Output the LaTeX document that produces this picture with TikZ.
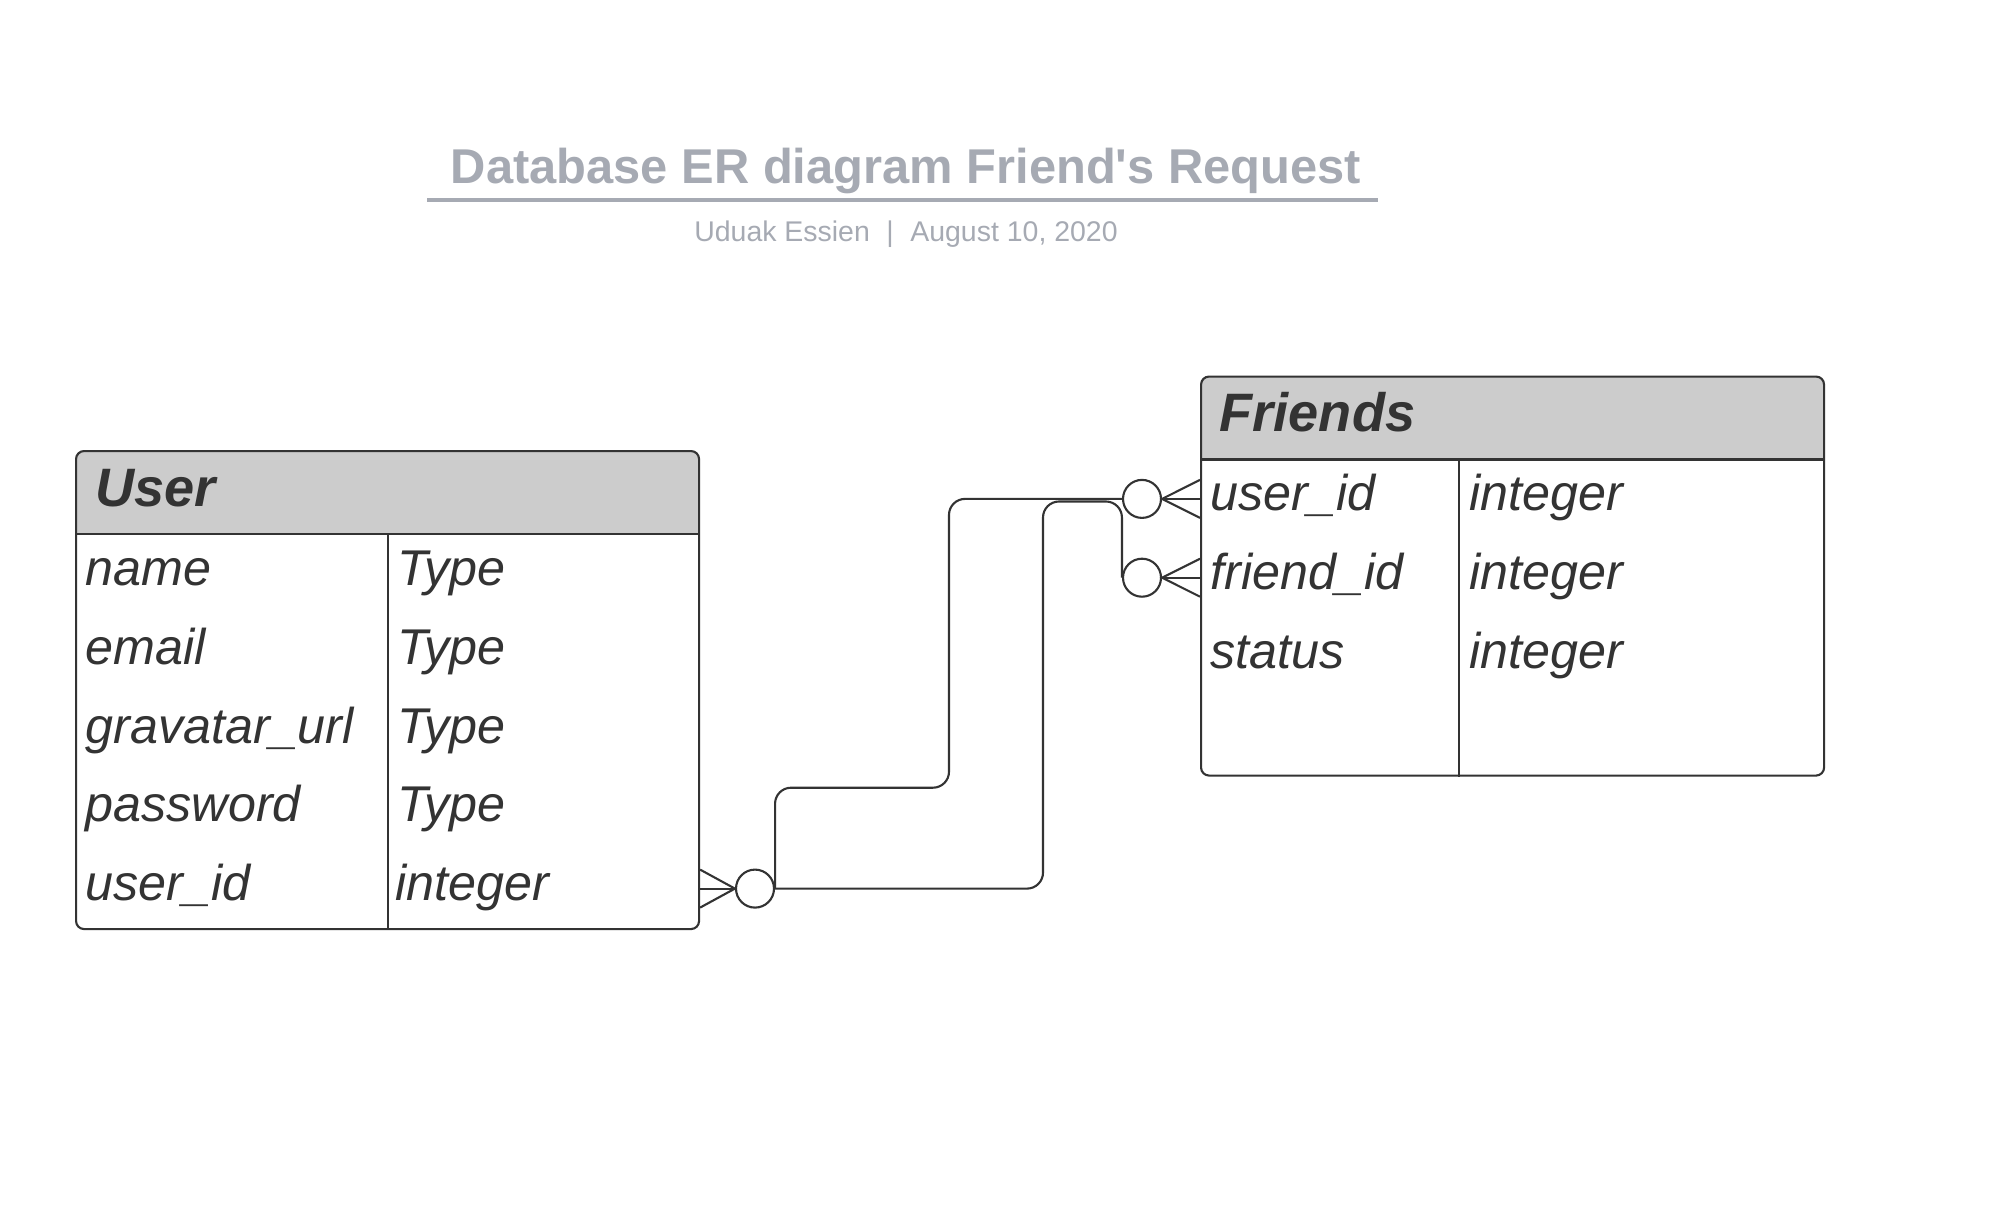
\documentclass[tikz,border=0pt]{standalone}
\usepackage{fontspec}
\setmainfont{Liberation Sans}
\usetikzlibrary{calc}
\definecolor{inkgray}{HTML}{333333}
\definecolor{headgray}{HTML}{CCCCCC}
\definecolor{titlegray}{HTML}{A6AAB3}
\tikzset{
	erbox/.style={draw=inkgray, line width=0.6pt, rounded corners=0.08cm, fill=white, inner sep=0pt,
		anchor=north west, minimum width=6.23cm,
		path picture={\fill[headgray, sharp corners] (path picture bounding box.north west) rectangle ([yshift=-0.84cm]path picture bounding box.north east);}},
	tblline/.style={draw=inkgray, line width=0.6pt},
	field/.style={anchor=base west, inner sep=0pt, text=inkgray, font=\itshape\fontsize{14.3}{17}\selectfont},
	tablehead/.style={anchor=base west, inner sep=0pt, text=inkgray, font=\bfseries\itshape\fontsize{15.4}{18}\selectfont},
	ring/.style={circle, draw=inkgray, line width=0.6pt, fill=white, minimum size=0.38cm, inner sep=0pt},
	link/.style={draw=inkgray, line width=0.6pt, rounded corners=0.16cm},
	foot/.style={draw=inkgray, line width=0.6pt},
}

\begin{document}
\begin{tikzpicture}
			%%%%% TITLE %%%%%
			\useasboundingbox (0, 0) rectangle (19.89, -12.30);
			
			\node[anchor=base, inner sep=0pt, text=titlegray, font=\bfseries\fontsize{13.9}{16}\selectfont] (title) at (9.06, -1.84) {Database ER diagram Friend\textquotesingle s Request};
			\draw[titlegray, line width=1.1pt] (4.27, -2.00) -- (13.78, -2.00);
			\node[anchor=base, inner sep=0pt, text=titlegray, font=\fontsize{8.1}{10}\selectfont] (byline) at (9.06, -2.41) {Uduak Essien\hspace{0.58em}|\hspace{0.58em}August 10, 2020};
			
			%%%%% USER %%%%%
			\node[erbox, minimum height=4.78cm] (user) at (0.75, -4.50) {};
			\draw[tblline] ([yshift=-0.84cm]user.north west) -- ([yshift=-0.84cm]user.north east);
			\draw[tblline] ([yshift=-0.84cm]user.north) -- (user.south);
			\node[tablehead] (userhead) at (0.95, -5.06) {User};
			
			\node[field] (uf1) at (0.85, -5.854) {name};
			\node[field] (uf2) at (0.85, -6.642) {email};
			\node[field] (uf3) at (0.85, -7.430) {gravatar\_url};
			\node[field] (uf4) at (0.85, -8.218) {password};
			\node[field] (uf5) at (0.85, -9.006) {user\_id};
			\node[field] (ut1) at (3.97, -5.854) {Type};
			\node[field] (ut2) at (3.97, -6.642) {Type};
			\node[field] (ut3) at (3.97, -7.430) {Type};
			\node[field] (ut4) at (3.97, -8.218) {Type};
			\node[field] (ut5) at (3.95, -9.006) {integer};
			
			%%%%% FRIENDS %%%%%
			\node[erbox, minimum height=3.99cm] (friends) at (12.00, -3.755) {};
			\draw[tblline] ([yshift=-0.84cm]friends.north west) -- ([yshift=-0.84cm]friends.north east);
			\draw[tblline] ([xshift=2.59cm, yshift=-0.84cm]friends.north west) -- ([xshift=2.59cm]friends.south west);
			\node[tablehead] (friendshead) at (12.19, -4.315) {Friends};
			
			\node[field] (ff1) at (12.10, -5.109) {user\_id};
			\node[field] (ff2) at (12.10, -5.897) {friend\_id};
			\node[field] (ff3) at (12.10, -6.685) {status};
			\node[field] (ft1) at (14.69, -5.109) {integer};
			\node[field] (ft2) at (14.69, -5.897) {integer};
			\node[field] (ft3) at (14.69, -6.685) {integer};
			
			%%%%% LINKS %%%%%
			\node[ring] (uring) at (7.55, -8.886) {};
			\node[ring] (fring1) at (11.42, -4.989) {};
			\node[ring] (fring2) at (11.42, -5.777) {};
			
			\draw[foot] ($(user.east |- uring)+(0, 0.19)$) -- (uring.west) -- ($(user.east |- uring)+(0, -0.19)$);
			\draw[foot] (user.east |- uring) -- (uring.west);
			\draw[foot] ($(friends.west |- fring1)+(0, 0.19)$) -- (fring1.east) -- ($(friends.west |- fring1)+(0, -0.19)$);
			\draw[foot] (friends.west |- fring1) -- (fring1.east);
			\draw[foot] ($(friends.west |- fring2)+(0, 0.19)$) -- (fring2.east) -- ($(friends.west |- fring2)+(0, -0.19)$);
			\draw[foot] (friends.west |- fring2) -- (fring2.east);
			
			\coordinate (bend1) at (9.49, -7.877);
			\coordinate (bend2) at (10.43, -5.015);
			\draw[link] (uring.east) |- (bend1) |- (fring1.west);
			\draw[link] (uring.east) -| (bend2) -| (fring2.west);
			
			%%%%% END %%%%%
\end{tikzpicture}
\end{document}
